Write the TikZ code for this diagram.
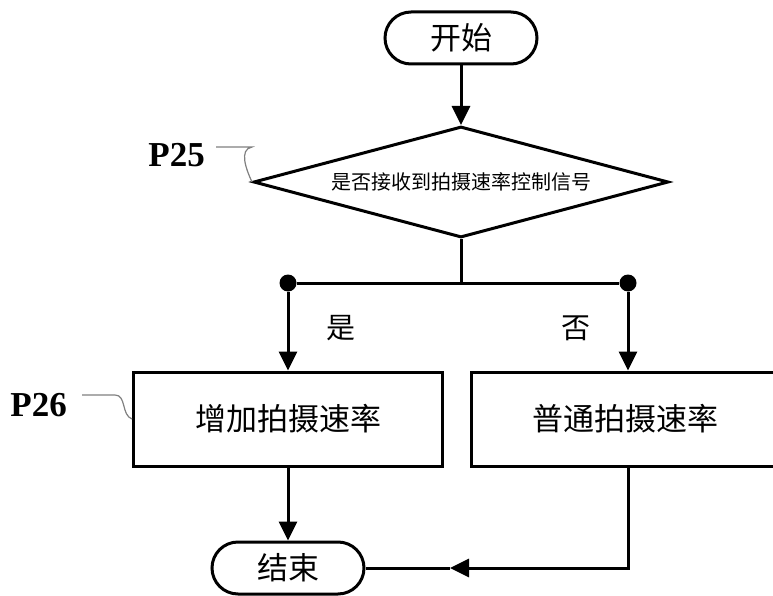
\documentclass[tikz,border=0pt]{standalone}
\usepackage{fontspec}
\setmainfont{Liberation Serif}
\newfontfamily\cjk{Noto Sans CJK SC}
\usepackage{tikz}
\usetikzlibrary{arrows.meta,shapes.geometric,shapes.misc}
\tikzset{box/.style={draw=black,line width=3pt,fill=white,inner sep=0pt,
 font=\cjk\fontsize{31}{36}\selectfont,minimum width=309,minimum height=94},
 term/.style={box,rounded rectangle,minimum width=152,minimum height=52},
 cond/.style={box,diamond,aspect=3.74,minimum width=415,minimum height=111,
 font=\cjk\fontsize{20}{24}\selectfont},
 line/.style={line width=3pt},arr/.style={line,-{Triangle[length=19pt,width=18pt]}},
 dot/.style={circle,fill=black,inner sep=0pt,minimum size=17pt},
 note/.style={font=\cjk\fontsize{29}{34}\selectfont},
 lbl/.style={font=\bfseries\fontsize{35}{40}\selectfont,inner sep=0pt},
 lead/.style={draw=gray,line width=1.2pt}}
\begin{document}
\begin{tikzpicture}[x=1pt,y=-1pt]
\clip (0,0) rectangle (773,596);
\node[term] (start) at (461,38) {开始};
\node[cond] (chk) at (461,182) {是否接收到拍摄速率控制信号};
\node[box] (fast) at (288,419) {增加拍摄速率};
\node[box] (norm) at (625.5,419) {普通拍摄速率};
\node[term] (stop) at (288,568) {结束};
\node[dot] (ydot) at (288,283) {};
\node[dot] (ndot) at (628,283) {};
\coordinate (rj) at (450,568);
\draw[arr] (start)--(chk);
\draw[line] (chk.south)--(chk.south|-ydot);
\draw[line] (ydot)--(ndot);
\draw[arr] (ydot)--(fast);
\draw[arr] (ndot)--(ndot|-norm.north);
\draw[arr] (fast)--(stop);
\draw[arr] (norm.south-|ndot) |- (rj);
\draw[line] (rj)--(stop.east);
\node[note] (yes) at (341,328) {是};
\node[note] (no) at (576,328) {否};
\node[lbl,anchor=east] (p25) at (205,155) {P25};
\node[lbl,anchor=east] (p26) at (67,405) {P26};
\draw[lead] ([xshift=11pt,yshift=8pt]p25.east)--++(36,0) to[out=190,in=115] (chk.west);
\draw[lead] ([xshift=15pt,yshift=10pt]p26.east)--++(33,0) to[out=0,in=160] (fast.west);
\end{tikzpicture}
\end{document}
